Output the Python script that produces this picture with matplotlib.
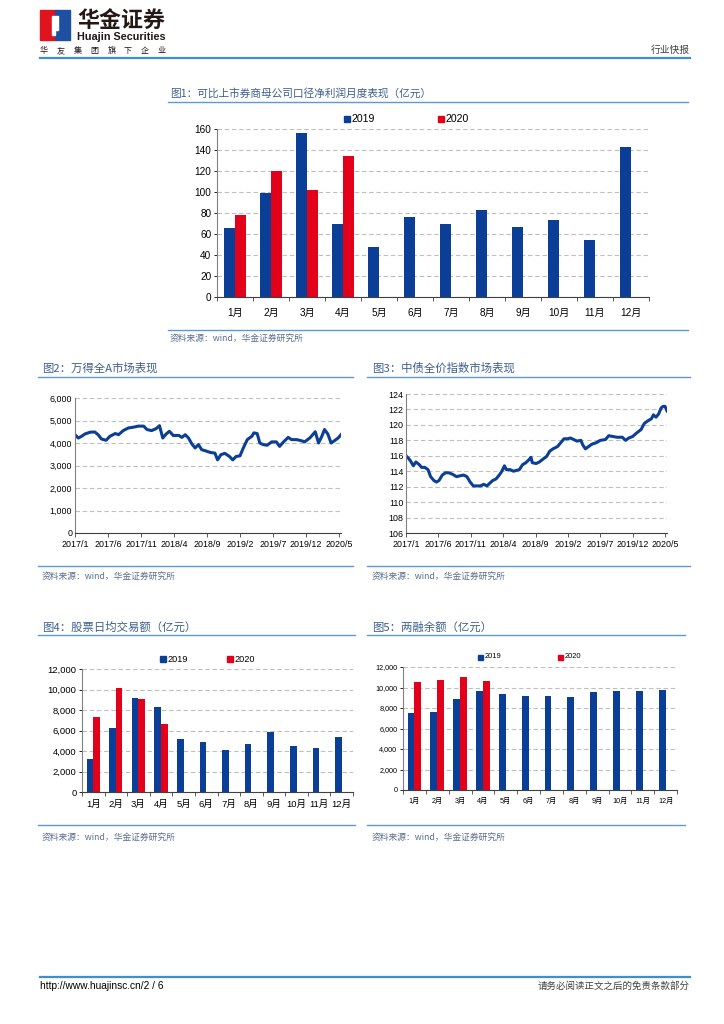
"""
华金证券 行业快报 p.2 — 券商月度数据图表
"""
import numpy as np
import matplotlib
matplotlib.use("Agg")
import matplotlib.pyplot as plt
import matplotlib.ticker as ticker
from matplotlib.lines import Line2D
from matplotlib.patches import Rectangle, Polygon

plt.rcParams["font.family"] = ["Liberation Sans", "Noto Sans CJK SC", "DejaVu Sans"]
plt.rcParams["axes.unicode_minus"] = False

W, H = 724, 1024
BLUE = "#0B3F97"
RED = "#E3001B"
SEP = "#5B9BD5"
TITLE_C = "#3D5F8F"
SRC_C = "#5A6E8C"
GRID_C = "#BFBFBF"
CJK = ["Noto Sans CJK SC", "DejaVu Sans"]

# ---- data ----
months = ["1月", "2月", "3月", "4月", "5月", "6月", "7月", "8月", "9月", "10月", "11月", "12月"]
profit_2019 = [66, 99, 156, 70, 48, 76, 70, 83, 67, 73, 54, 143]
profit_2020 = [78, 120, 102, 134]
turnover_2019 = [3200, 6200, 9200, 8300, 5200, 4900, 4100, 4700, 5900, 4500, 4300, 5400]
turnover_2020 = [7300, 10150, 9100, 6600]
margin_2019 = [7500, 7600, 8900, 9700, 9400, 9200, 9200, 9100, 9600, 9650, 9700, 9750]
margin_2020 = [10500, 10700, 11050, 10600]

date_ticks = [0, 5, 10, 15, 20, 25, 30, 35, 40]
date_labels = ["2017/1", "2017/6", "2017/11", "2018/4", "2018/9", "2019/2", "2019/7", "2019/12", "2020/5"]

# months since 2017/1 -> 万得全A
windA_m = [0, 0.5, 1.0, 1.5, 2.3, 3.0, 3.5, 4.0, 4.7, 5.3, 6.1, 6.6, 7.3, 8.1, 8.8,
           9.6, 10.4, 10.9, 11.6, 12.3, 12.8, 13.3, 13.8, 14.3, 14.9, 15.7, 16.2, 16.7, 17.2, 17.7,
           18.2, 18.7, 19.2, 19.7, 20.5, 21.2, 21.6, 22.1, 22.7, 23.4, 23.9, 24.4, 25.0, 25.5, 26.1,
           26.8, 27.1, 27.6, 28.0, 28.5, 29.1, 29.8, 30.5, 31.0, 31.6, 32.3, 32.8, 33.6, 34.3, 34.8,
           35.6, 36.4, 36.9, 37.4, 37.8, 38.3, 38.8, 39.3, 39.9, 40.3]
windA_v = [4370, 4220, 4300, 4400, 4480, 4490, 4370, 4180, 4120, 4300, 4420, 4370, 4550, 4670, 4700,
           4750, 4750, 4600, 4550, 4640, 4770, 4220, 4400, 4520, 4330, 4340, 4250, 4370, 4220, 3960,
           3780, 3930, 3700, 3660, 3580, 3550, 3250, 3480, 3540, 3400, 3250, 3400, 3430, 3780, 4150,
           4300, 4450, 4420, 4000, 3930, 3900, 4050, 4050, 3850, 4050, 4250, 4150, 4150, 4100, 4050,
           4230, 4500, 4000, 4300, 4600, 4400, 4000, 4100, 4230, 4370]

# months since 2017/1 -> 中债全价指数
bond_m = [0, 0.36, 0.72, 1.13, 1.53, 2.05, 2.4, 2.9, 3.4, 3.8, 4.3, 4.7, 5.1, 5.6, 6.1,
          6.6, 7.2, 7.8, 8.3, 8.9, 9.4, 9.9, 10.4, 10.9, 11.5, 12.0, 12.5, 13.0, 13.4, 13.9,
          14.4, 14.8, 15.2, 15.5, 16.1, 16.6, 17.0, 17.5, 18.0, 18.5, 19.0, 19.3, 19.5, 20.1, 20.6,
          21.2, 21.7, 22.2, 22.7, 23.4, 23.9, 24.4, 24.9, 25.4, 25.9, 26.4, 27.0, 27.3, 27.7, 28.2,
          28.7, 29.4, 30.0, 30.8, 31.3, 31.9, 32.6, 33.4, 33.9, 34.4, 35.0, 35.6, 36.3, 36.8, 37.3,
          37.9, 38.2, 38.6, 39.0, 39.4, 39.7, 40.0, 40.3]
bond_v = [116.0, 115.7, 115.3, 114.7, 115.2, 114.85, 114.5, 114.5, 114.2, 113.3, 112.8, 112.6, 112.8, 113.5, 113.8,
          113.8, 113.6, 113.3, 113.4, 113.5, 113.3, 112.6, 112.1, 112.1, 112.1, 112.3, 112.1, 112.5, 112.8, 113.0,
          113.5, 114.0, 114.7, 114.2, 114.2, 114.0, 114.1, 114.2, 114.85, 115.1, 115.5, 115.8, 115.1, 115.0, 115.2,
          115.6, 115.9, 116.6, 116.9, 117.2, 117.7, 118.2, 118.2, 118.3, 118.1, 117.9, 118.0, 117.4, 116.9, 117.2,
          117.5, 117.7, 118.0, 118.1, 118.6, 118.5, 118.4, 118.4, 118.0, 118.3, 118.5, 118.95, 119.4, 120.2, 120.5,
          120.8, 121.3, 121.0, 121.4, 122.2, 122.4, 122.4, 121.8]

fig = plt.figure(figsize=(W / 100, H / 100), dpi=100)


# pixel helpers (top-left origin)
def box(x0, y0, x1, y1):
    return [x0 / W, 1 - y1 / H, (x1 - x0) / W, (y1 - y0) / H]


def hline(x0, x1, y, color=SEP, lw=1.0):
    fig.add_artist(Line2D([x0 / W, x1 / W], [1 - y / H, 1 - y / H],
                          transform=fig.transFigure, color=color, lw=lw))


def txt(x, y, s, **kw):
    kw.setdefault("va", "center")
    return fig.text(x / W, 1 - y / H, s, **kw)


def legend_px(x, y, size, gap, fs):
    for i, (c, lab) in enumerate([(BLUE, "2019"), (RED, "2020")]):
        xx = x + i * gap
        fig.add_artist(Rectangle(((xx) / W, 1 - (y + size / 2) / H), size / W, size / H,
                                 transform=fig.transFigure, color=c))
        txt(xx + size + 1.5, y, lab, fontsize=fs)


def style(ax, fs):
    ax.set_axisbelow(True)
    ax.yaxis.grid(True, color=GRID_C, linestyle=(0, (4, 2.5)), linewidth=0.8)
    for s in ["top", "right"]:
        ax.spines[s].set_visible(False)
    ax.spines["left"].set_color("#808080")
    ax.spines["bottom"].set_color("#404040")
    ax.tick_params(labelsize=fs, colors="black", length=2, width=0.6, pad=2)


thousands = ticker.FuncFormatter(lambda v, _: f"{v:,.0f}")


def bar_panel(rect, v19, v20, ymax, ystep, fs, fmt=None, half=0.15, xpad=4):
    ax = fig.add_axes(box(*rect))
    x = np.arange(len(months))
    ax.bar(x[:len(v19)] - half, v19, width=2 * half, color=BLUE, zorder=2)
    ax.bar(x[:len(v20)] + half, v20, width=2 * half, color=RED, zorder=2)
    ax.set_xlim(-0.5, len(months) - 0.5)
    ax.set_ylim(0, ymax)
    ax.set_yticks(np.arange(0, ymax + 1, ystep))
    ax.set_xticks(x)
    ax.set_xticklabels(months)
    ax.set_xticks(np.arange(-0.5, len(months), 1), minor=True)
    style(ax, fs)
    ax.tick_params(axis="x", which="major", length=0, pad=xpad)
    ax.tick_params(axis="x", which="minor", length=3, width=0.6, color="#404040")
    if fmt is not None:
        ax.yaxis.set_major_formatter(fmt)
    return ax


def line_panel(rect, xs, ys, ylim, ystep, fmt=None):
    ax = fig.add_axes(box(*rect))
    ax.plot(xs, ys, color=BLUE, lw=2.2, solid_joinstyle="round", zorder=2)
    ax.set_xlim(0, 40.3)
    ax.set_ylim(*ylim)
    ax.set_yticks(np.arange(ylim[0], ylim[1] + 0.1, ystep))
    ax.set_xticks(date_ticks)
    ax.set_xticklabels(date_labels)
    style(ax, 6.4)
    ax.tick_params(axis="x", length=3, color="#404040")
    ax.tick_params(axis="y", length=0)
    if fmt is not None:
        ax.yaxis.set_major_formatter(fmt)
    return ax


# ============================================================
# Header / footer
# ============================================================
fig.add_artist(Rectangle((40 / W, 1 - 40 / H), 15 / W, 30 / H, transform=fig.transFigure, color="#E0141E"))
fig.add_artist(Rectangle((55 / W, 1 - 40 / H), 15 / W, 30 / H, transform=fig.transFigure, color="#1E4FA0"))
fig.add_artist(Polygon([(52 / W, 1 - 16 / H), (58 / W, 1 - 16 / H), (58 / W, 1 - 30 / H),
                        (55 / W, 1 - 30 / H), (55 / W, 1 - 35 / H), (52 / W, 1 - 35 / H)],
                       closed=True, transform=fig.transFigure, color="white"))
txt(77, 21, "华金证券", fontsize=15.8, fontweight="bold", color="#231815", family=CJK)
txt(77, 37, "Huajin Securities", fontsize=7.8, fontweight="bold", color="#231815")
for i, ch in enumerate("华友集团旗下企业"):
    txt(40 + i * 16.8, 53, ch, fontsize=5.8, color="#231815", family=CJK, va="baseline")
txt(690, 50, "行业快报", fontsize=7, color="#404040", ha="right", family=CJK)
hline(40, 690, 58, color="#3D8FD1", lw=1.6)

hline(40, 690, 977, color="#3D8FD1", lw=1.6)
txt(40, 986, "http://www.huajinsc.cn/2 / 6", fontsize=7.3, color="black")
txt(690, 986, "请务必阅读正文之后的免责条款部分", fontsize=6.8, color="#404040", ha="right", family=CJK)

SRC = "资料来源：wind，华金证券研究所"

# ============================================================
# 图1 净利润
# ============================================================
txt(170, 93, "图1：可比上市券商母公司口径净利润月度表现（亿元）", fontsize=7.7, color=TITLE_C, family=CJK)
hline(168, 688, 101.5)
bar_panel((217, 129, 649, 297), profit_2019, profit_2020, 160, 20, 7.2, xpad=8)
legend_px(344, 119, 6, 94, 7.6)
hline(168, 688, 329.5)
txt(170, 338, SRC, fontsize=6.3, color=SRC_C, style="italic", family=CJK)

# ============================================================
# 图2 万得全A
# ============================================================
txt(42, 368, "图2：万得全A市场表现", fontsize=8.2, color=TITLE_C, family=CJK)
hline(38, 353, 377)
line_panel((75, 398, 341, 533), windA_m, windA_v, (0, 6000), 1000, thousands)
hline(38, 353, 566)
txt(42, 576, SRC, fontsize=6.3, color=SRC_C, style="italic", family=CJK)

# ============================================================
# 图3 中债全价
# ============================================================
txt(372, 368, "图3：中债全价指数市场表现", fontsize=8.2, color=TITLE_C, family=CJK)
hline(367, 690, 377)
line_panel((406, 394, 667, 533), bond_m, bond_v, (106, 124), 2)
hline(367, 690, 566)
txt(372, 576, SRC, fontsize=6.3, color=SRC_C, style="italic", family=CJK)

# ============================================================
# 图4 日均交易额
# ============================================================
txt(42, 627, "图4：股票日均交易额（亿元）", fontsize=8.2, color=TITLE_C, family=CJK)
hline(38, 355, 635)
bar_panel((82, 669, 353, 792), turnover_2019, turnover_2020, 12000, 2000, 6.8, thousands, half=0.145, xpad=6)
legend_px(160, 659, 5.5, 67, 6.6)
hline(38, 355, 825)
txt(42, 837, SRC, fontsize=6.3, color=SRC_C, style="italic", family=CJK)

# ============================================================
# 图5 两融余额
# ============================================================
txt(372, 627, "图5：两融余额（亿元）", fontsize=8.2, color=TITLE_C, family=CJK)
hline(367, 685, 635)
bar_panel((403, 667, 677, 790), margin_2019, margin_2020, 12000, 2000, 5.2, thousands, half=0.15, xpad=6)
legend_px(478, 657, 5, 80, 5.4)
hline(367, 685, 825)
txt(372, 837, SRC, fontsize=6.3, color=SRC_C, style="italic", family=CJK)

plt.savefig("out.png", dpi=100)
plt.close()
print("saved out.png")
